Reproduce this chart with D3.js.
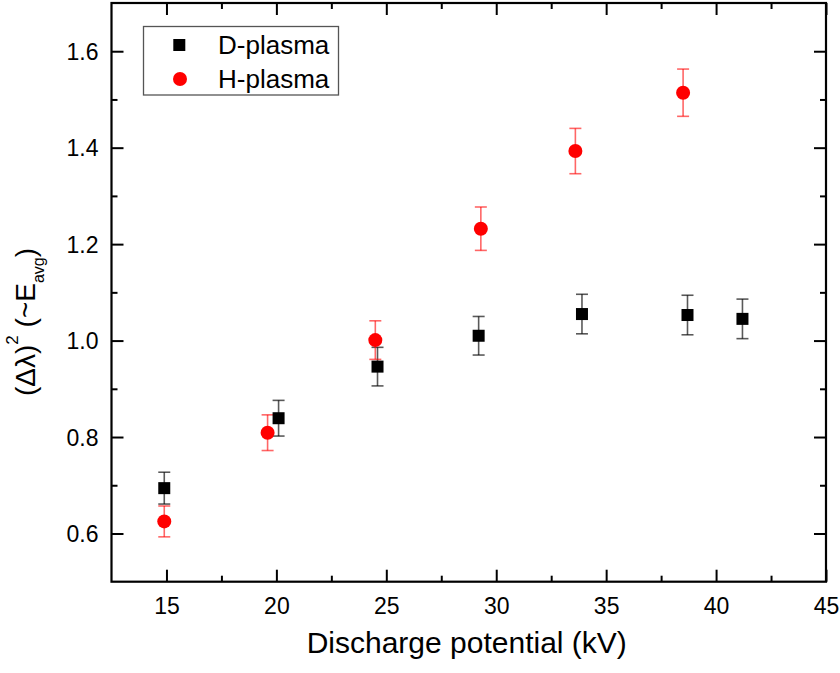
<!DOCTYPE html>
<html>
<head>
<meta charset="utf-8">
<script src="https://cdn.jsdelivr.net/npm/d3@7"></script>
<style>
  body { margin: 0; background: #fff; }
  text { font-family: "Liberation Sans", Arial, sans-serif; fill: #000; }
</style>
</head>
<body>
<svg id="chart" width="840" height="673"></svg>
<script>
'use strict';

// D-plasma (black squares)
const dX = [14.9, 20.1, 24.6, 29.2, 33.9, 38.7, 41.2];
const dY = [0.694, 0.839, 0.946, 1.010, 1.055, 1.053, 1.045];
const dErr = [0.033, 0.037, 0.040, 0.040, 0.041, 0.041, 0.041];

// H-plasma (red circles)
const hX = [14.9, 19.6, 24.5, 29.3, 33.6, 38.5];
const hY = [0.625, 0.809, 1.001, 1.232, 1.393, 1.514];
const hErr = [0.032, 0.037, 0.040, 0.045, 0.047, 0.049];

const xTicks = [15, 20, 25, 30, 35, 40, 45];
const xMinor = [17.5, 22.5, 27.5, 32.5, 37.5, 42.5];
const yTicks = [0.6, 0.8, 1.0, 1.2, 1.4, 1.6];
const yMinor = [0.7, 0.9, 1.1, 1.3, 1.5];
const seriesNames = ["D-plasma", "H-plasma"];

const width = 840;
const height = 673;
const margin = {top: 3, right: 14, bottom: 91.3, left: 111.5};

const svg = d3.select("#chart");

const x = d3.scaleLinear()
    .domain([12.5, 45])
    .range([margin.left, width - margin.right]);
const y = d3.scaleLinear()
    .domain([0.5, 1.7])
    .range([height - margin.bottom, margin.top]);

const majorLen = 12;
const minorLen = 6;

function styleAxis(g) {
    g.select(".domain").remove();
    g.selectAll("line").attr("stroke", "#000").attr("stroke-width", 2);
}

// bottom axis with labels
const gx = svg.append("g")
    .attr("transform", `translate(0,${y.range()[0]})`)
    .call(d3.axisBottom(x).tickValues(xTicks).tickSize(-majorLen).tickFormat(d3.format("d")));
gx.call(styleAxis);
gx.selectAll("text")
    .attr("y", 32).attr("dy", 0)
    .style("font-size", "23px");
svg.append("g")
    .attr("transform", `translate(0,${y.range()[0]})`)
    .call(d3.axisBottom(x).tickValues(xMinor).tickSize(-minorLen).tickFormat(""))
    .call(styleAxis);

// top axis, ticks only
svg.append("g")
    .attr("transform", `translate(0,${y.range()[1]})`)
    .call(d3.axisTop(x).tickValues(xTicks).tickSize(-majorLen).tickFormat(""))
    .call(styleAxis);
svg.append("g")
    .attr("transform", `translate(0,${y.range()[1]})`)
    .call(d3.axisTop(x).tickValues(xMinor).tickSize(-minorLen).tickFormat(""))
    .call(styleAxis);

// left axis with labels
const gy = svg.append("g")
    .attr("transform", `translate(${x.range()[0]},0)`)
    .call(d3.axisLeft(y).tickValues(yTicks).tickSize(-majorLen).tickFormat(d3.format(".1f")));
gy.call(styleAxis);
gy.selectAll("text")
    .attr("x", -13).attr("dy", "0.36em")
    .style("font-size", "23px");
svg.append("g")
    .attr("transform", `translate(${x.range()[0]},0)`)
    .call(d3.axisLeft(y).tickValues(yMinor).tickSize(-minorLen).tickFormat(""))
    .call(styleAxis);

// right axis, ticks only
svg.append("g")
    .attr("transform", `translate(${x.range()[1]},0)`)
    .call(d3.axisRight(y).tickValues(yTicks).tickSize(-majorLen).tickFormat(""))
    .call(styleAxis);
svg.append("g")
    .attr("transform", `translate(${x.range()[1]},0)`)
    .call(d3.axisRight(y).tickValues(yMinor).tickSize(-minorLen).tickFormat(""))
    .call(styleAxis);

// frame
svg.append("rect")
    .attr("x", x.range()[0])
    .attr("y", y.range()[1])
    .attr("width", x.range()[1] - x.range()[0])
    .attr("height", y.range()[0] - y.range()[1])
    .attr("fill", "none")
    .attr("stroke", "#000")
    .attr("stroke-width", 2.2);

// error bars
const capW = 6;
function errorBars(xs, ys, errs, color) {
    const g = svg.append("g")
        .attr("stroke", color)
        .attr("stroke-width", 1.6)
        .attr("fill", "none");
    xs.forEach((xv, i) => {
        const cx = x(xv);
        const top = y(ys[i] + errs[i]);
        const bot = y(ys[i] - errs[i]);
        g.append("line").attr("x1", cx).attr("x2", cx).attr("y1", top).attr("y2", bot);
        g.append("line").attr("x1", cx - capW).attr("x2", cx + capW).attr("y1", top).attr("y2", top);
        g.append("line").attr("x1", cx - capW).attr("x2", cx + capW).attr("y1", bot).attr("y2", bot);
    });
}
errorBars(dX, dY, dErr, "rgba(0,0,0,0.65)");
errorBars(hX, hY, hErr, "rgba(255,0,0,0.6)");

// markers
const sq = 12;
svg.append("g").selectAll("rect")
    .data(dX.map((v, i) => [v, dY[i]]))
    .join("rect")
    .attr("x", d => x(d[0]) - sq / 2)
    .attr("y", d => y(d[1]) - sq / 2)
    .attr("width", sq)
    .attr("height", sq)
    .attr("fill", "#000");

svg.append("g").selectAll("circle")
    .data(hX.map((v, i) => [v, hY[i]]))
    .join("circle")
    .attr("cx", d => x(d[0]))
    .attr("cy", d => y(d[1]))
    .attr("r", 7)
    .attr("fill", "#f00");

// legend
const legend = svg.append("g");
legend.append("rect")
    .attr("x", 143.5).attr("y", 26.5)
    .attr("width", 195).attr("height", 68.5)
    .attr("fill", "#fff")
    .attr("stroke", "#555")
    .attr("stroke-width", 1.3);
legend.append("rect")
    .attr("x", 179.3 - sq / 2).attr("y", 45 - sq / 2)
    .attr("width", sq).attr("height", sq)
    .attr("fill", "#000");
legend.append("circle")
    .attr("cx", 180).attr("cy", 79).attr("r", 7)
    .attr("fill", "#f00");
legend.selectAll("text.lbl")
    .data(seriesNames)
    .join("text")
    .attr("class", "lbl")
    .attr("x", 218)
    .attr("y", (d, i) => i === 0 ? 54.3 : 88.3)
    .style("font-size", "26px")
    .text(d => d);

// x axis title
svg.append("text")
    .attr("x", (x.range()[0] + x.range()[1]) / 2 - 2)
    .attr("y", 653)
    .attr("text-anchor", "middle")
    .style("font-size", "30px")
    .text("Discharge potential (kV)");

// y axis title
const yt = svg.append("text")
    .attr("transform", "translate(35,322) rotate(-90)")
    .attr("text-anchor", "middle")
    .style("font-size", "28px");
yt.append("tspan").text("(\u0394\u03bb)");
yt.append("tspan").attr("dy", -17).style("font-size", "17px").text("2");
yt.append("tspan").attr("dy", 17).text(" (~E");
yt.append("tspan").attr("dy", 9).style("font-size", "16px").text("avg");
yt.append("tspan").attr("dy", -9).text(")");
</script>
</body>
</html>
